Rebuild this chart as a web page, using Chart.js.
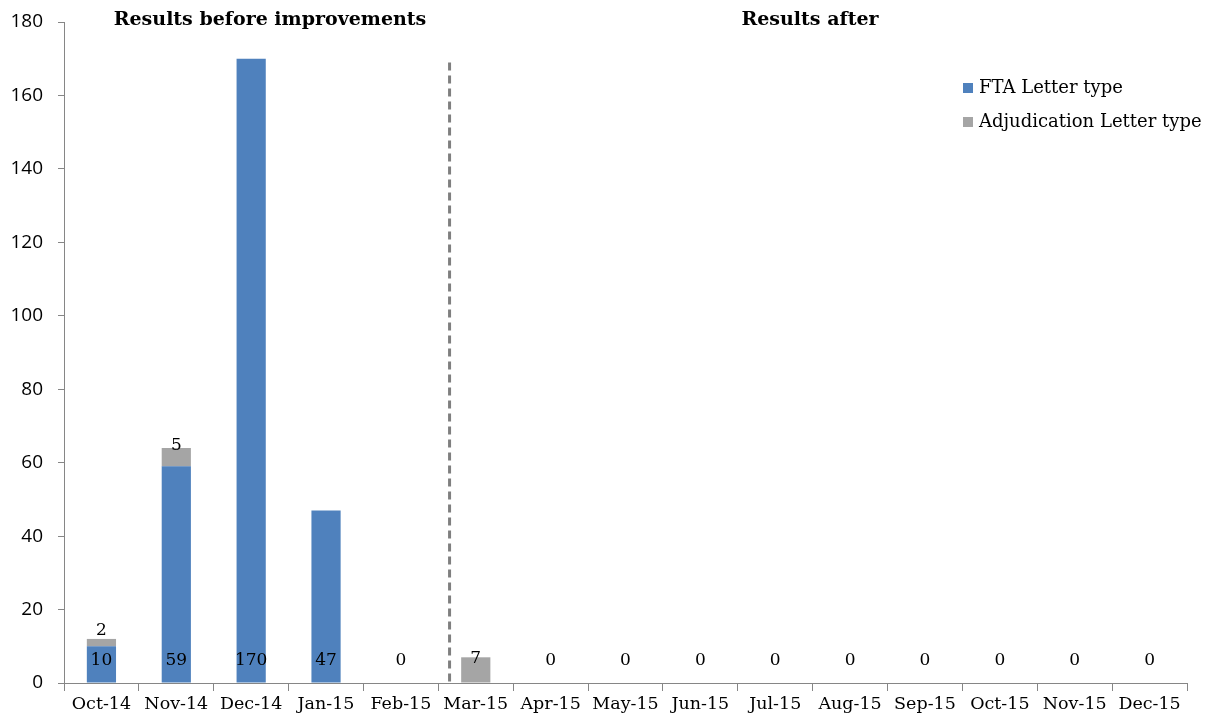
<!DOCTYPE html>
<html>
<head>
<meta charset="utf-8">
<script src="https://cdn.jsdelivr.net/npm/chart.js@4.4.1/dist/chart.umd.min.js"></script>
<style>
  html, body { margin: 0; padding: 0; background: #fff; }
  #wrap { width: 1208px; height: 721px; }
</style>
</head>
<body>
<div id="wrap"><canvas id="c" width="1208" height="721"></canvas></div>
<script>
// Monthly letter counts
const months = ['Oct-14','Nov-14','Dec-14','Jan-15','Feb-15','Mar-15','Apr-15','May-15','Jun-15','Jul-15','Aug-15','Sep-15','Oct-15','Nov-15','Dec-15'];
const ftaLetters = [10, 59, 170, 47, 0, 0, 0, 0, 0, 0, 0, 0, 0, 0, 0];
const adjudicationLetters = [2, 5, 0, 0, 0, 7, 0, 0, 0, 0, 0, 0, 0, 0, 0];
const yTicks = [0, 20, 40, 60, 80, 100, 120, 140, 160, 180];
const sectionTitles = ['Results before improvements', 'Results after'];
const seriesNames = ['FTA Letter type', 'Adjudication Letter type'];

const BLUE = '#4F81BD';
const GREY = '#A5A5A5';
const SERIF = '"DejaVu Serif", "Liberation Serif", serif';
const SANS = '"Open Sans", "Liberation Sans", sans-serif';

// Value labels, section headings, divider and legend
const annotate = {
  id: 'annotate',
  afterDatasetsDraw(chart) {
    const ctx = chart.ctx;
    const x = chart.scales.x, y = chart.scales.y;
    const base = y.getPixelForValue(0);

    ctx.save();
    ctx.fillStyle = '#000';
    ctx.textAlign = 'center';
    ctx.textBaseline = 'middle';
    ctx.font = '17px ' + SERIF;

    months.forEach((m, i) => {
      const cx = x.getPixelForValue(i);
      const f = ftaLetters[i], a = adjudicationLetters[i];
      // first series: label near the base of the bar
      if (!(f === 0 && a > 0)) ctx.fillText(String(f), cx, base - 22);
      // second series: label by its segment
      if (a > 0) {
        const mid = (y.getPixelForValue(f) + y.getPixelForValue(f + a)) / 2;
        ctx.fillText(String(a), cx, mid - 12);
      }
    });

    // dashed divider between the two periods
    const dx = x.getPixelForValue(4.65);
    ctx.strokeStyle = '#7F7F7F';
    ctx.lineWidth = 3;
    ctx.setLineDash([8, 5]);
    ctx.beginPath();
    ctx.moveTo(dx, y.getPixelForValue(169));
    ctx.lineTo(dx, base);
    ctx.stroke();
    ctx.setLineDash([]);

    // section headings
    ctx.font = 'bold 19px ' + SERIF;
    ctx.fillText(sectionTitles[0], 270, 20);
    ctx.fillText(sectionTitles[1], 810, 20);

    // legend
    ctx.font = '18px ' + SERIF;
    ctx.textAlign = 'left';
    [BLUE, GREY].forEach((col, k) => {
      const ly = 88 + k * 34;
      ctx.fillStyle = col;
      ctx.fillRect(963, ly - 5, 10, 10);
      ctx.fillStyle = '#000';
      ctx.fillText(seriesNames[k], 979, ly);
    });
    ctx.restore();
  }
};

new Chart(document.getElementById('c'), {
  type: 'bar',
  data: {
    labels: months,
    datasets: [
      { label: seriesNames[0], data: ftaLetters, backgroundColor: BLUE },
      { label: seriesNames[1], data: adjudicationLetters, backgroundColor: GREY }
    ]
  },
  options: {
    responsive: false,
    animation: false,
    devicePixelRatio: 1,
    layout: { padding: { top: 22, right: 21, left: 0, bottom: 0 } },
    datasets: { bar: { barPercentage: 1, categoryPercentage: 0.39 } },
    plugins: { legend: { display: false }, tooltip: { enabled: false } },
    scales: {
      x: {
        stacked: true,
        grid: { display: true, drawOnChartArea: false, tickLength: 8, color: '#868686', offset: true },
        border: { display: true, color: '#868686', width: 1 },
        ticks: { color: '#000', font: { family: SERIF, size: 17.5 }, maxRotation: 0, autoSkip: false, padding: 3 },
        afterFit(s) { s.height = 38; s.paddingLeft = 0; s.paddingRight = 0; }
      },
      y: {
        stacked: true,
        min: 0, max: 180,
        afterBuildTicks(s) { s.ticks = yTicks.map(v => ({ value: v })); },
        grid: { display: true, drawOnChartArea: false, tickLength: 6, color: '#868686' },
        border: { display: true, color: '#868686', width: 1 },
        ticks: { color: '#000', font: { family: SANS, size: 19 }, padding: 15 },
        afterFit(s) { s.width = 64; s.paddingTop = 0; s.paddingBottom = 0; }
      }
    }
  },
  plugins: [annotate]
});
</script>
</body>
</html>
